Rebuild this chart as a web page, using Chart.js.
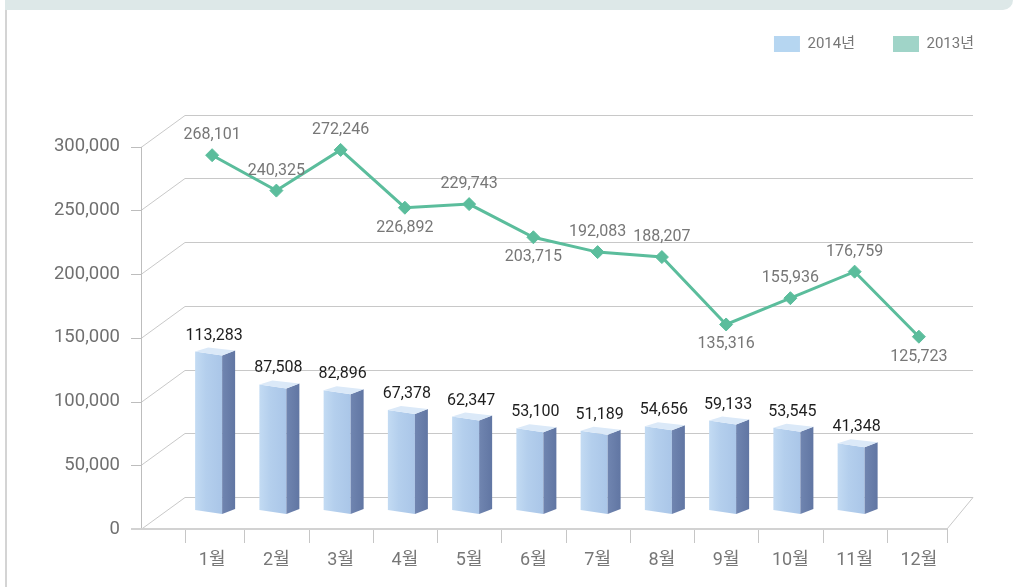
<!DOCTYPE html>
<html lang="ko">
  <head>
    <meta charset="UTF-8" />
    <title>월별 실적</title>
    <script src="https://cdn.jsdelivr.net/npm/chart.js@4.4.1/dist/chart.umd.min.js"></script>
    <style>
      html, body { margin: 0; padding: 0; background: #fff; }
      .frame { position: relative; width: 1021px; height: 587px; overflow: hidden; }
      .band { position: absolute; left: 5px; top: 0; width: 1008px; height: 10px; background: #dde8e8; border-bottom-right-radius: 14px; }
      .edge { position: absolute; left: 5px; top: 10px; bottom: 0; width: 2px; background: #d4d4d4; }
      canvas { position: absolute; left: 0; top: 0; }
    </style>
  </head>
  <body>
    <div class="frame">
      <div class="band"></div>
      <div class="edge"></div>
      <canvas id="chart" width="1021" height="587"></canvas>
    </div>

    <script>
      //data
      const MONTHS = ['1월', '2월', '3월', '4월', '5월', '6월', '7월', '8월', '9월', '10월', '11월', '12월'];
      const SALES_2014 = [113283, 87508, 82896, 67378, 62347, 53100, 51189, 54656, 59133, 53545, 41348, null];
      const SALES_2013 = [268101, 240325, 272246, 226892, 229743, 203715, 192083, 188207, 135316, 155936, 176759, 125723];
      const Y_TICKS = [0, 50000, 100000, 150000, 200000, 250000, 300000];
      // -1 = label above the point, 1 = below
      const LINE_LABEL_SIDE = [-1, -1, -1, 1, -1, 1, -1, -1, 1, -1, -1, 1];
      const LEGEND_COLORS = ['#b6d6f1', '#a0d4c8'];

      const FONT = "Roboto, 'Noto Sans CJK KR', sans-serif";
      Chart.defaults.font.family = FONT;

      const fmt = (v) => v.toLocaleString('en-US');
      const noPad = (s) => { s.paddingTop = 0; s.paddingBottom = 0; };

      // fake 3d frame: back wall grid, floor, front axis
      const frame3d = {
        id: 'frame3d',
        beforeDatasetsDraw(chart) {
          const { ctx, chartArea: a, scales } = chart;
          const y = scales.y, y2 = scales.y2, x = scales.x;
          const frontL = a.left - 39, backL = a.left + 5, backR = a.right + 22, frontR = a.right - 4;
          const y0 = Math.round(y.getPixelForValue(0));
          const yb0 = Math.round(y2.getPixelForValue(0));

          ctx.save();
          ctx.lineWidth = 1;
          ctx.strokeStyle = '#c8c8c8';
          Y_TICKS.forEach((v) => {
            const yf = Math.round(y.getPixelForValue(v)) + 0.5;
            const yb = Math.round(y2.getPixelForValue(v)) + 0.5;
            ctx.beginPath();
            ctx.moveTo(frontL, yf);
            ctx.lineTo(backL, yb);
            ctx.lineTo(backR, yb);
            ctx.stroke();
          });
          ctx.beginPath();
          ctx.moveTo(frontR, y0);
          ctx.lineTo(backR, yb0 + 0.5);
          ctx.stroke();

          // front axis + ticks
          ctx.strokeStyle = '#bdbdbd';
          ctx.beginPath();
          ctx.moveTo(frontL + 0.5, Math.round(y.getPixelForValue(300000)));
          ctx.lineTo(frontL + 0.5, y0);
          ctx.stroke();
          Y_TICKS.forEach((v) => {
            const yf = Math.round(y.getPixelForValue(v)) + 0.5;
            ctx.beginPath();
            ctx.moveTo(frontL - 10, yf);
            ctx.lineTo(frontL, yf);
            ctx.stroke();
          });

          ctx.strokeStyle = '#c6c6c6';
          for (let i = 0; i <= MONTHS.length; i++) {
            let px = x.getPixelForValue(i - 0.5);
            if (i === 0) px = backL;
            if (i === MONTHS.length) px = frontR;
            px = Math.round(px) + 0.5;
            ctx.beginPath();
            ctx.moveTo(px, y0);
            ctx.lineTo(px, y0 + 14);
            ctx.stroke();
          }

          ctx.lineWidth = 2;
          ctx.strokeStyle = '#d2d2d2';
          ctx.beginPath();
          ctx.moveTo(frontL - 10, y0);
          ctx.lineTo(frontR, y0);
          ctx.stroke();
          ctx.restore();
        },
        beforeDatasetDraw(chart, args) {
          if (args.index !== 0) return;
          const ctx = chart.ctx;
          ctx.save();
          args.meta.data.forEach((el, i) => {
            if (SALES_2014[i] == null) return;
            const { x: c, y: t, base: b } = el.getProps(['x', 'y', 'base'], true);
            const x0 = c - 17, x1 = c + 10, x2 = c + 23;

            const g = ctx.createLinearGradient(x0, 0, x1, 0);
            g.addColorStop(0, '#c3dbf3');
            g.addColorStop(0.4, '#b4cfed');
            g.addColorStop(1, '#aac6e8');
            ctx.fillStyle = g;
            ctx.beginPath();
            ctx.moveTo(x0, t - 1);
            ctx.lineTo(x1, t + 3);
            ctx.lineTo(x1, b + 2);
            ctx.lineTo(x0, b - 2);
            ctx.closePath();
            ctx.fill();

            const gs = ctx.createLinearGradient(x1, 0, x2, 0);
            gs.addColorStop(0, '#7085b0');
            gs.addColorStop(1, '#6176a3');
            ctx.fillStyle = gs;
            ctx.beginPath();
            ctx.moveTo(x1, t + 3);
            ctx.lineTo(x2, t - 2);
            ctx.lineTo(x2, b - 3);
            ctx.lineTo(x1, b + 2);
            ctx.closePath();
            ctx.fill();

            ctx.fillStyle = '#dbe9f8';
            ctx.beginPath();
            ctx.moveTo(x0, t - 1);
            ctx.lineTo(x1, t + 3);
            ctx.lineTo(x2, t - 2);
            ctx.lineTo(x0 + 13, t - 5);
            ctx.closePath();
            ctx.fill();
          });
          ctx.restore();
          return false;
        },
        afterDatasetsDraw(chart) {
          const ctx = chart.ctx;
          ctx.save();
          ctx.textAlign = 'center';
          ctx.textBaseline = 'middle';

          ctx.fillStyle = '#1e1e1e';
          ctx.font = '16px ' + FONT;
          chart.getDatasetMeta(0).data.forEach((el, i) => {
            if (SALES_2014[i] == null) return;
            ctx.fillText(fmt(SALES_2014[i]), el.x + 2, el.y - 17);
          });

          ctx.fillStyle = '#777';
          ctx.font = '16px ' + FONT;
          chart.getDatasetMeta(1).data.forEach((el, i) => {
            ctx.fillText(fmt(SALES_2013[i]), el.x, el.y + LINE_LABEL_SIDE[i] * 20);
          });
          ctx.restore();
        }
      };

      //config
      const config = {
        data: {
          labels: MONTHS,
          datasets: [
            {
              type: 'bar',
              label: '2014년',
              data: SALES_2014,
              yAxisID: 'y2',
              base: -11800,
              barThickness: 27,
              backgroundColor: LEGEND_COLORS[0]
            },
            {
              type: 'line',
              label: '2013년',
              data: SALES_2013,
              yAxisID: 'y2',
              borderColor: '#5bbd9c',
              backgroundColor: LEGEND_COLORS[1],
              borderWidth: 3,
              tension: 0,
              fill: false,
              pointStyle: 'rectRot',
              pointRadius: 6.5,
              pointBorderWidth: 1,
              pointBorderColor: '#5bbd9c',
              pointBackgroundColor: '#5bbd9c'
            }
          ]
        },
        options: {
          responsive: false,
          animation: false,
          events: [],
          layout: { autoPadding: false, padding: { top: -2, right: 9, left: 0, bottom: 0 } },
          plugins: {
            tooltip: { enabled: false },
            legend: {
              position: 'top',
              align: 'end',
              labels: {
                boxWidth: 26,
                boxHeight: 16,
                padding: 38,
                color: '#777',
                font: { size: 15 },
                generateLabels: (chart) =>
                  Chart.defaults.plugins.legend.labels.generateLabels(chart).map((l, i) => ({
                    ...l,
                    fillStyle: LEGEND_COLORS[i],
                    strokeStyle: LEGEND_COLORS[i],
                    lineWidth: 0
                  }))
              }
            }
          },
          scales: {
            x: {
              type: 'category',
              offset: true,
              grid: { display: false, drawTicks: false },
              border: { display: false },
              ticks: { color: '#777', font: { size: 18 }, padding: 21, maxRotation: 0 },
              afterFit: (s) => { s.height = 58; }
            },
            y: {
              position: 'left',
              min: 0,
              max: 366300,
              grid: { display: false, drawTicks: false },
              border: { display: false },
              ticks: { color: '#707070', font: { size: 18.5 }, padding: 60, callback: (v) => fmt(v) },
              afterBuildTicks: (s) => { s.ticks = Y_TICKS.map((v) => ({ value: v })); },
              afterFit: (s) => { s.width = 180; noPad(s); }
            },
            y2: {
              position: 'right',
              min: -25100,
              max: 341200,
              grid: { display: false, drawTicks: false },
              border: { display: false },
              ticks: { display: false },
              afterFit: (s) => { s.width = 61; noPad(s); }
            }
          }
        },
        plugins: [frame3d]
      };

      //init
      const ctx = document.getElementById('chart');
      const chart = new Chart(ctx, config);
    </script>
  </body>
</html>
